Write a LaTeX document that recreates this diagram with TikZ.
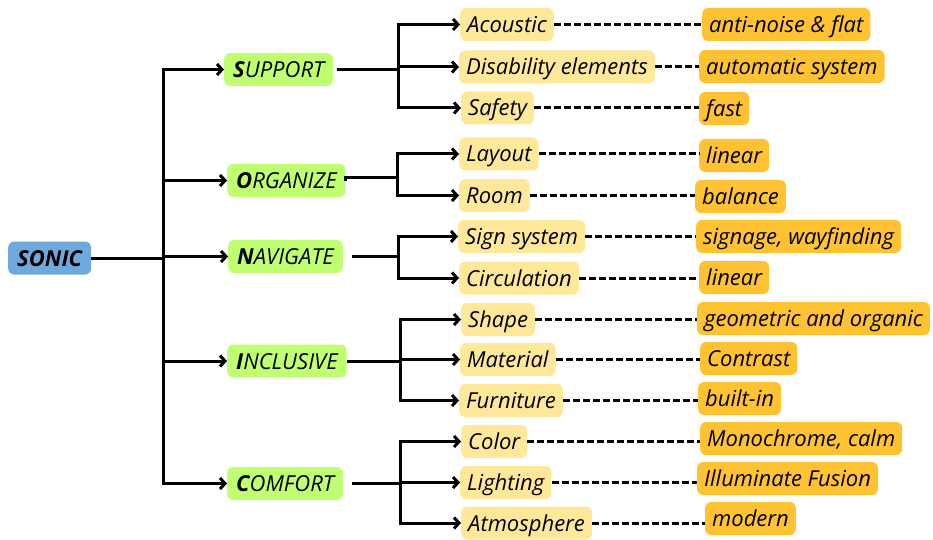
\documentclass[tikz,border=0pt]{standalone}
\usepackage{fontspec}
\setmainfont{Open Sans}
\usepackage{tikz}
\usetikzlibrary{arrows.meta, positioning}
\definecolor{sonicblue}{RGB}{111,168,220}
\definecolor{maingreen}{RGB}{193,255,114}
\definecolor{subyellow}{RGB}{255,232,153}
\definecolor{valorange}{RGB}{255,194,51}

\begin{document}
\begin{tikzpicture}[x=1pt, y=-1pt, font=\fontsize{22}{24}\selectfont\itshape,
    box/.style={rectangle, rounded corners=6pt, minimum height=33pt, inner xsep=7pt, inner ysep=2pt, text height=16pt, text depth=0pt, anchor=west},
    rootbox/.style={box, fill=sonicblue, inner xsep=9pt, font=\fontsize{22}{24}\selectfont\bfseries\itshape},
    mainbox/.style={box, fill=maingreen, inner xsep=9pt},
    subbox/.style={box, fill=subyellow},
    valbox/.style={box, fill=valorange},
    link/.style={line width=3pt, -{Straight Barb[length=5pt, width=11pt]}},
    dots/.style={line width=3pt, dash pattern=on 7pt off 3pt}]
    \useasboundingbox (0,0) rectangle (933,540);

    \node (sonic) [rootbox] at (8,258) {SONIC};

    \node (support) [mainbox] at (224,69.5) {{\bfseries S}UPPORT};
    \node (organize) [mainbox] at (227,180.5) {{\bfseries O}RGANIZE};
    \node (navigate) [mainbox] at (228,256.5) {{\bfseries N}AVIGATE};
    \node (inclusive) [mainbox] at (227,361) {{\bfseries I}NCLUSIVE};
    \node (comfort) [mainbox] at (227,483.5) {{\bfseries C}OMFORT};

    \node (acoustic) [subbox] at (460,24.5) {Acoustic};
    \node (disability) [subbox] at (459,67) {Disability elements};
    \node (safety) [subbox] at (461,108) {Safety};
    \node (layout) [subbox] at (459,154) {Layout};
    \node (room) [subbox] at (459,195.5) {Room};
    \node (sign) [subbox] at (458,236.5) {Sign system};
    \node (circulation) [subbox] at (459,278) {Circulation};
    \node (shape) [subbox] at (461,319.5) {Shape};
    \node (material) [subbox] at (460,359.5) {Material};
    \node (furniture) [subbox] at (459,400.5) {Furniture};
    \node (color) [subbox] at (461,441.5) {Color};
    \node (lighting) [subbox] at (460,482.5) {Lighting};
    \node (atmosphere) [subbox] at (461,523) {Atmosphere};

    \node (noise) [valbox] at (702,24.5) {anti-noise \& flat};
    \node (automatic) [valbox] at (699,66.5) {automatic system};
    \node (fast) [valbox] at (699,108.5) {fast};
    \node (linearA) [valbox] at (699,155.5) {linear};
    \node (balance) [valbox] at (695,196.5) {balance};
    \node (signage) [valbox] at (696,236.5) {signage, wayfinding};
    \node (linearB) [valbox] at (699,277.5) {linear};
    \node (geometric) [valbox] at (697,318.5) {geometric and organic};
    \node (contrast) [valbox] at (700,358.5) {Contrast};
    \node (builtin) [valbox] at (698,398.5) {built-in};
    \node (mono) [valbox] at (700,438.5) {Monochrome, calm};
    \node (fusion) [valbox] at (697,478.5) {Illuminate Fusion};
    \node (modern) [valbox] at (705,518.5) {modern};

    \coordinate (trunk) at (163,258);
    \coordinate (supportJ) at (398,69.5);
    \coordinate (organizeJ) at (397,177);
    \coordinate (navigateJ) at (398,256.5);
    \coordinate (inclusiveJ) at (400,361);
    \coordinate (comfortJ) at (400,483.5);

    \draw[line width=3pt] (sonic.east) -- (trunk);
    \foreach \main in {support,organize,navigate,inclusive,comfort}
        \draw[link] (trunk) |- (\main.west);

    \draw[line width=3pt, shorten <=4pt] (support.east) -- (supportJ);
    \draw[line width=3pt] (organize.east) |- (organizeJ);
    \draw[line width=3pt, shorten <=9pt] (navigate.east) -- (navigateJ);
    \draw[line width=3pt] (inclusive.east) -- (inclusiveJ);
    \draw[line width=3pt, shorten <=9pt] (comfort.east) -- (comfortJ);

    \foreach \leaf in {acoustic,disability,safety}
        \draw[link] (supportJ) |- (\leaf.west);
    \foreach \leaf in {layout,room}
        \draw[link] (organizeJ) |- (\leaf.west);
    \foreach \leaf in {sign,circulation}
        \draw[link] (navigateJ) |- (\leaf.west);
    \foreach \leaf in {shape,material,furniture}
        \draw[link] (inclusiveJ) |- (\leaf.west);
    \foreach \leaf in {color,lighting,atmosphere}
        \draw[link] (comfortJ) |- (\leaf.west);

    \foreach \leaf/\val in {acoustic/noise,disability/automatic,safety/fast,layout/linearA,room/balance,sign/signage,circulation/linearB,shape/geometric,material/contrast,furniture/builtin,color/mono,lighting/fusion,atmosphere/modern}
        \draw[dots] (\leaf.east) -- (\leaf.east -| \val.west);
\end{tikzpicture}
\end{document}
